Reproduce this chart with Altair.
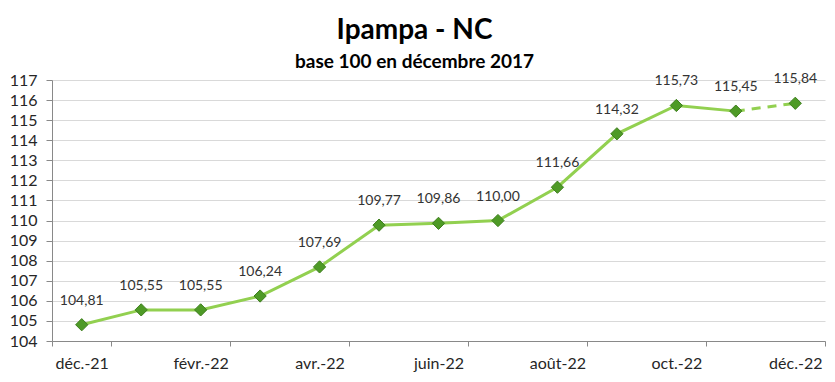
import altair as alt
import pandas as pd

months = ["déc.-21", "janv.-22", "févr.-22", "mars-22", "avr.-22", "mai-22", "juin-22",
          "juil.-22", "août-22", "sept.-22", "oct.-22", "nov.-22", "déc.-22"]
values = [104.81, 105.55, 105.55, 106.24, 107.69, 109.77, 109.86,
          110.00, 111.66, 114.32, 115.73, 115.45, 115.84]
shown_labels = months[::2]
y_ticks = list(range(104, 118))

df = pd.DataFrame({
    "mois": months,
    "indice": values,
    "i": list(range(len(months))),
    "lab": [f"{v:.2f}".replace(".", ",") for v in values],
})

FONT = "Lato"

x = alt.X("mois:O", sort=months, bandPosition=0.5,
          scale=alt.Scale(type="band", paddingInner=0, paddingOuter=0),
          axis=alt.Axis(title=None, values=shown_labels, labelAngle=0, tickBand="extent",
                        labelFont=FONT, labelFontSize=16, labelColor="#262626",
                        labelPadding=9, tickSize=5, tickColor="#898989",
                        domainColor="#898989", grid=False))
y = alt.Y("indice:Q",
          scale=alt.Scale(domain=[104, 117], nice=False, zero=False),
          axis=alt.Axis(title=None, values=y_ticks, labelFont=FONT, labelFontSize=16,
                        labelColor="#262626", labelPadding=9, tickSize=6,
                        tickColor="#898989", domainColor="#898989",
                        gridColor="#d9d9d9", gridWidth=1))

base = alt.Chart(df)

solid = base.mark_line(color="#92D050", strokeWidth=3).encode(x=x, y=y).transform_filter("datum.i <= 11")
dashed = base.mark_line(color="#92D050", strokeWidth=3, strokeDash=[9, 7]).encode(x=x, y=y).transform_filter("datum.i >= 11")
pts = base.mark_point(shape="diamond", filled=True, size=150, color="#4E9A26",
                      stroke="#3E7F1D", strokeWidth=1, opacity=1).encode(x=x, y=y)
txt = base.mark_text(dy=-24, font=FONT, fontSize=14, color="#333333").encode(x=x, y=y, text="lab:N")

chart = alt.layer(solid, dashed, pts, txt).properties(
    width=773, height=261,
    autosize=alt.AutoSizeParams(type="none"),
    padding={"left": 44, "top": 72, "right": 2, "bottom": 33},
    title=alt.Title("Ipampa - NC", subtitle="base 100 en décembre 2017",
                    anchor="middle", dx=-24, offset=0,
                    font=FONT, fontSize=28, fontWeight="bold", color="#000000",
                    subtitleFont=FONT, subtitleFontSize=19, subtitleFontWeight="bold",
                    subtitleColor="#000000", subtitlePadding=8),
).configure_view(stroke=None)

chart.save("out.html", embed_options={"renderer": "svg", "actions": False})
